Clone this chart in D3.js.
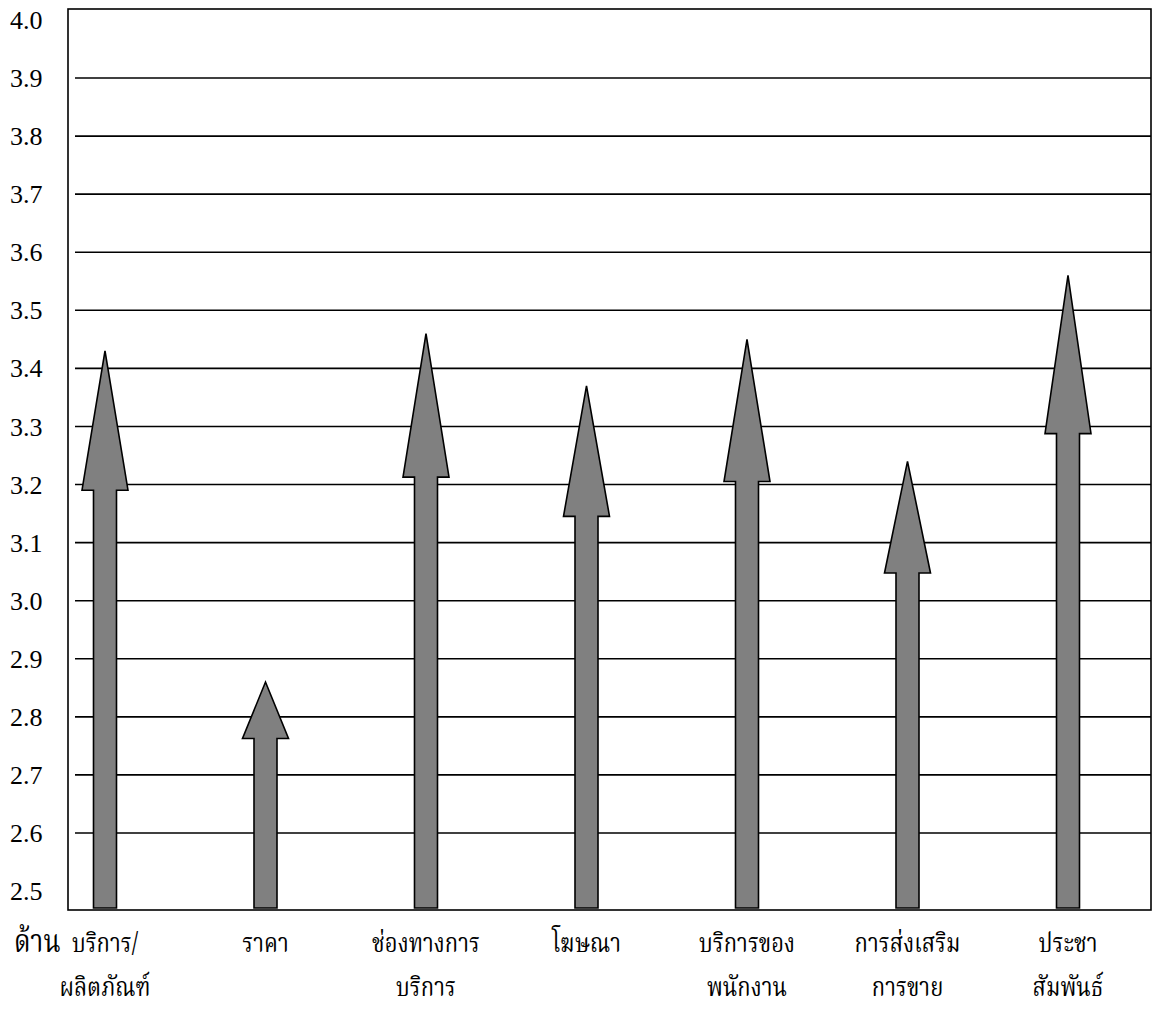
<!DOCTYPE html>
<html>
<head>
<meta charset="utf-8">
<script src="https://cdn.jsdelivr.net/npm/d3@7"></script>
<style>
  html, body { margin: 0; padding: 0; background: #fff; }
  svg { display: block; }
</style>
</head>
<body>
<svg id="chart" width="1153" height="1012"></svg>
<script>
// ---- data ----
const categories = ["บริการ/ผลิตภัณฑ์", "ราคา", "ช่องทางการบริการ", "โฆษณา", "บริการของพนักงาน", "การส่งเสริมการขาย", "ประชาสัมพันธ์"];
const labelLine1 = ["บริการ/", "ราคา", "ช่องทางการ", "โฆษณา", "บริการของ", "การส่งเสริม", "ประชา"];
const labelLine2 = ["ผลิตภัณฑ์", "", "บริการ", "", "พนักงาน", "การขาย", "สัมพันธ์"];
const values = [3.43, 2.86, 3.46, 3.37, 3.45, 3.24, 3.56];
const yTickValues = [2.5, 2.6, 2.7, 2.8, 2.9, 3.0, 3.1, 3.2, 3.3, 3.4, 3.5, 3.6, 3.7, 3.8, 3.9, 4.0];
const axisPrefix = "ด้าน";

// ---- layout ----
const frame = { left: 68, right: 1151, top: 9, bottom: 910 };
const svg = d3.select("#chart");

const y = d3.scaleLinear().domain([2.6, 3.9]).range([833, 78]);
const x = d3.scalePoint().domain(categories).range([105, 1068]);

const numFont = '"Liberation Serif", "Times New Roman", serif';
const thaiFont = '"Noto Serif Thai", "Loma", serif';

// gridlines (top 4.0 coincides with the frame; none at 2.5)
svg.append("g")
  .selectAll("line")
  .data(yTickValues.filter(v => v > 2.55 && v < 3.95))
  .join("line")
  .attr("x1", frame.left + 7)
  .attr("x2", frame.right)
  .attr("y1", d => y(d))
  .attr("y2", d => y(d))
  .attr("stroke", "#000")
  .attr("stroke-width", 1.6);

// frame
svg.append("rect")
  .attr("x", frame.left)
  .attr("y", frame.top)
  .attr("width", frame.right - frame.left)
  .attr("height", frame.bottom - frame.top)
  .attr("fill", "none")
  .attr("stroke", "#000")
  .attr("stroke-width", 1.6);

// y tick labels
svg.append("g")
  .selectAll("text")
  .data(yTickValues)
  .join("text")
  .attr("x", 10)
  .attr("y", d => y(d))
  .attr("dy", "0.35em")
  .style("font-family", numFont)
  .style("font-size", "26px")
  .attr("fill", "#000")
  .text(d => d.toFixed(1));

// arrows
const headW = 46, shaftW = 23;
const botY = frame.bottom - 2;
svg.append("g")
  .selectAll("path")
  .data(categories.map((c, i) => ({ c, v: values[i] })))
  .join("path")
  .attr("d", d => {
    const cx = x(d.c);
    const tip = y(d.v);
    const base = tip + 0.25 * (botY - tip);
    const p = d3.path();
    p.moveTo(cx - shaftW / 2, botY);
    p.lineTo(cx - shaftW / 2, base);
    p.lineTo(cx - headW / 2, base);
    p.lineTo(cx, tip);
    p.lineTo(cx + headW / 2, base);
    p.lineTo(cx + shaftW / 2, base);
    p.lineTo(cx + shaftW / 2, botY);
    p.closePath();
    return p.toString();
  })
  .attr("fill", "#808080")
  .attr("stroke", "#000")
  .attr("stroke-width", 1.6)
  .attr("stroke-linejoin", "miter");

// category labels (slightly tall, like the reference)
const vScale = 1.2;
const lab = svg.append("g")
  .style("font-family", thaiFont)
  .style("font-size", "22px")
  .attr("fill", "#000")
  .attr("text-anchor", "middle");
lab.selectAll("text.l1")
  .data(categories)
  .join("text")
  .attr("class", "l1")
  .attr("transform", d => `translate(${x(d)},952) scale(1,${vScale})`)
  .text((d, i) => labelLine1[i]);
lab.selectAll("text.l2")
  .data(categories)
  .join("text")
  .attr("class", "l2")
  .attr("transform", d => `translate(${x(d)},996) scale(1,${vScale})`)
  .text((d, i) => labelLine2[i]);

svg.append("text")
  .attr("transform", `translate(14,952) scale(1,${vScale})`)
  .style("font-family", thaiFont)
  .style("font-size", "26px")
  .attr("fill", "#000")
  .text(axisPrefix);
</script>
</body>
</html>
